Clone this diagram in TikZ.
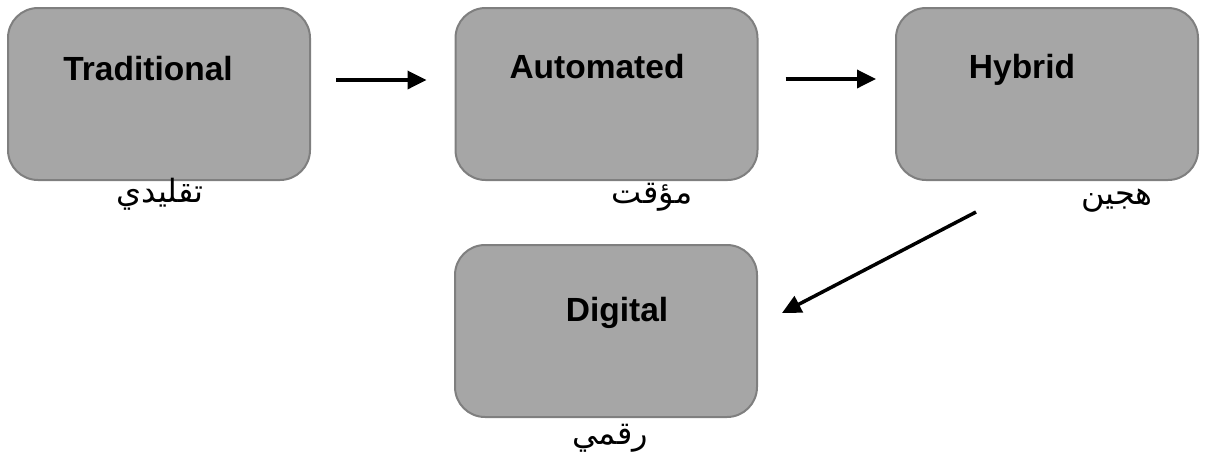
\documentclass[tikz,border=0pt]{standalone}
\usepackage{fontspec}
\setmainfont{Liberation Sans}
\newfontfamily\arabicfont[Script=Arabic]{DejaVu Sans}
\TeXXeTstate=1
\usetikzlibrary{arrows.meta}
\definecolor{boxfill}{HTML}{A6A6A6}
\definecolor{boxline}{HTML}{7F7F7F}
\begin{document}
\begin{tikzpicture}[x=1pt,y=-1pt,
  box/.style={draw=boxline, fill=boxfill, line width=2pt, rounded corners=30pt,
    minimum width=302pt, minimum height=172pt, inner sep=0pt},
  title/.style={font=\fontsize{33.5}{36}\selectfont\bfseries, anchor=base, inner sep=0pt},
  arlabel/.style={font=\fontsize{32}{36}\selectfont\arabicfont, anchor=base, inner sep=0pt},
  arr/.style={line width=3.5pt, -{Triangle[length=19pt,width=18pt]}}]
\useasboundingbox (0,0) rectangle (1205,459);
\node[box] (b1) at (159,94) {};
\node[box] (b2) at (606.5,94) {};
\node[box] (b3) at (1047,94) {};
\node[box] (b4) at (606,331) {};
\node[title] (t1) at (148,80) {Traditional};
\node[title] (t2) at (597,78) {Automated};
\node[title] (t3) at (1022,78) {Hybrid};
\node[title] (t4) at (617,321) {Digital};
\node[arlabel] (a1) at (160,202) {\beginR تقليدي\endR};
\node[arlabel] (a2) at (652,203) {\beginR مؤقت\endR};
\node[arlabel] (a3) at (1117,204) {\beginR هجين\endR};
\node[arlabel] (a4) at (610,444) {\beginR رقمي\endR};
\coordinate (s1) at ([xshift=25pt,yshift=14pt]b1.east);
\coordinate (e1) at ([xshift=-28pt,yshift=14pt]b2.west);
\coordinate (s2) at ([xshift=27pt,yshift=15pt]b2.east);
\coordinate (e2) at ([xshift=-19pt,yshift=15pt]b3.west);
\coordinate (s3) at (976,212);
\coordinate (e3) at (782,313);
\draw[arr] (s1) -- (e1);
\draw[arr] (s2) -- (e2);
\draw[arr] (s3) -- (e3);
\end{tikzpicture}
\end{document}
